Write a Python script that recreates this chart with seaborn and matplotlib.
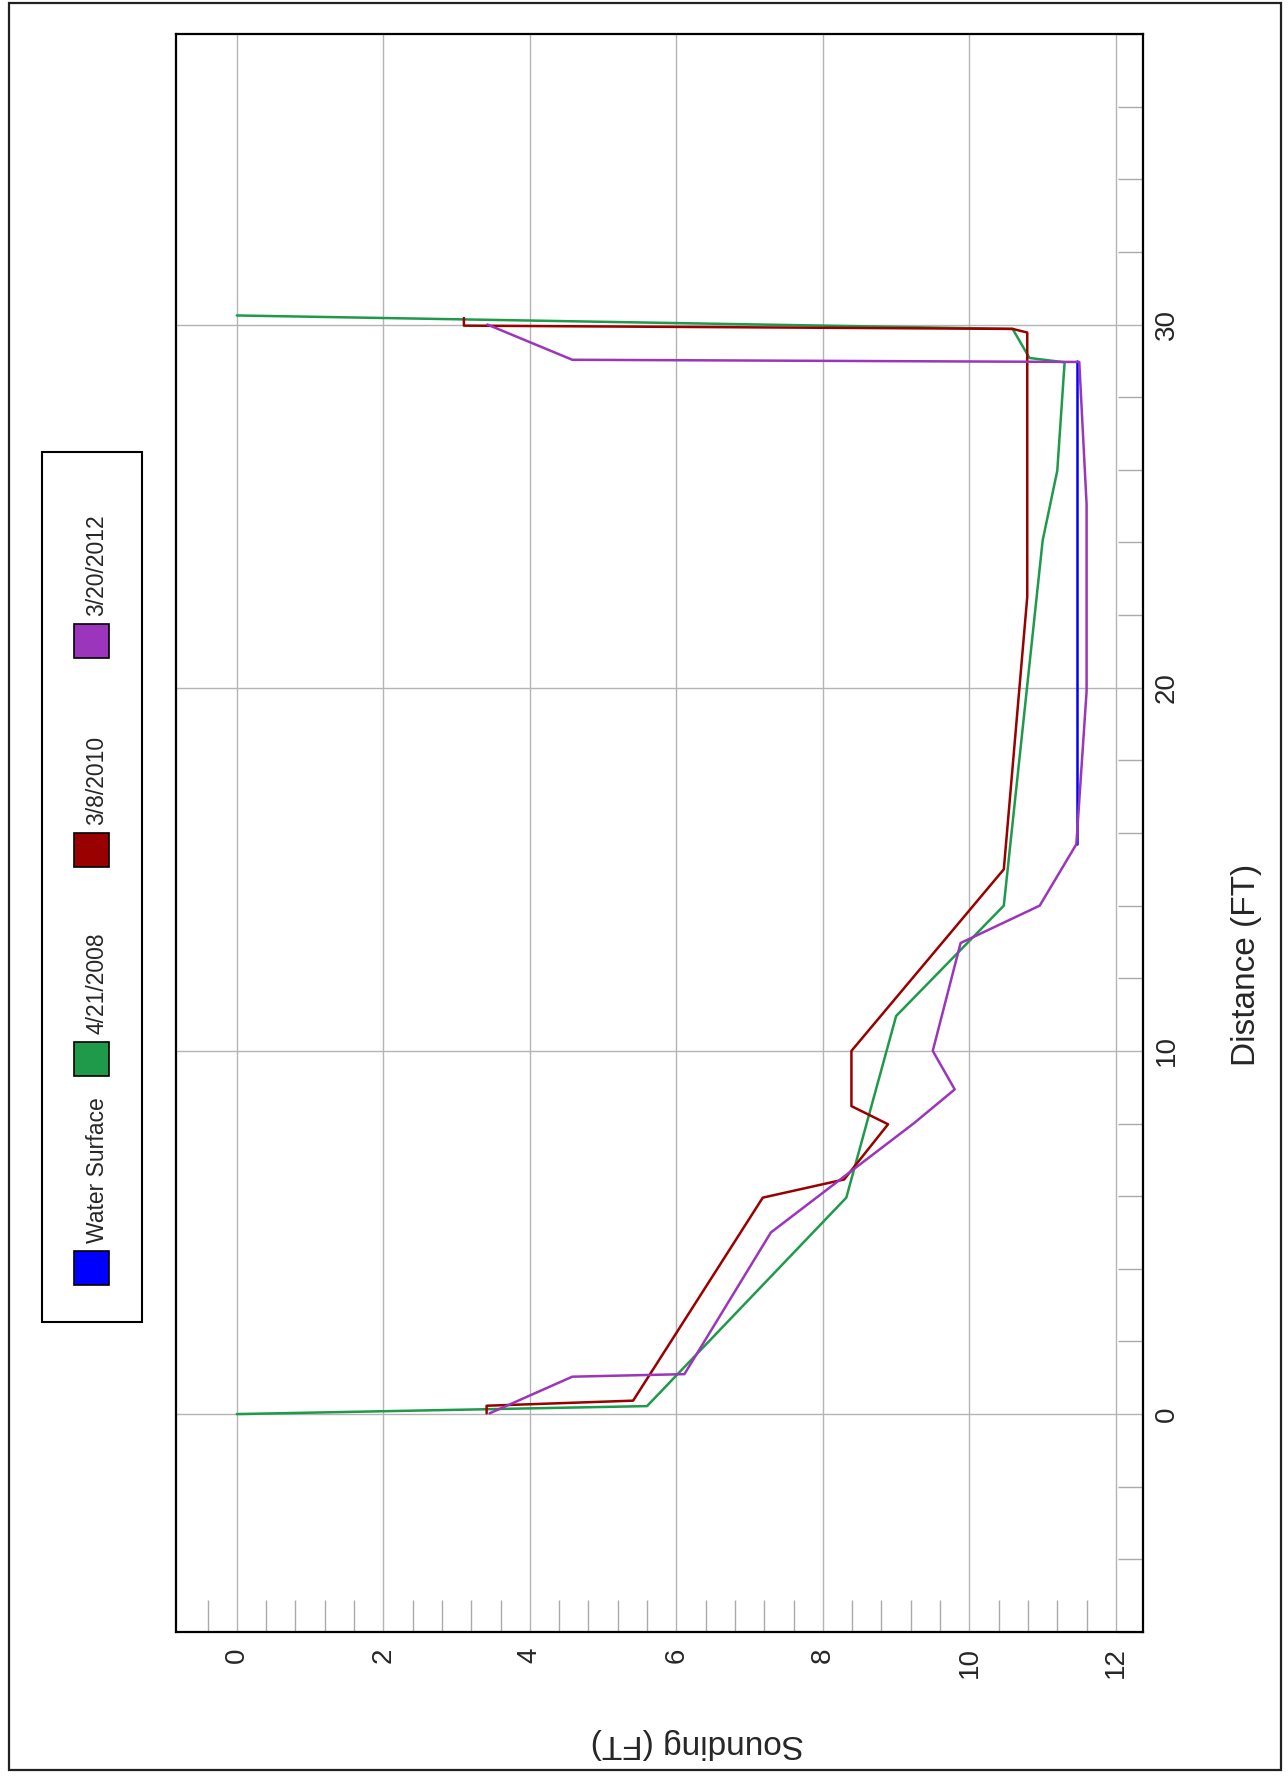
import numpy as np
import pandas as pd
import matplotlib
matplotlib.use('Agg')
import matplotlib.pyplot as plt
import seaborn as sns
from matplotlib.ticker import MultipleLocator, FixedLocator
from matplotlib.patches import Rectangle

# cross-section soundings (chart is drawn turned on its side)
# distance along section (FT) and sounding depth (FT) for each survey
ws_dist = [15.69, 29.0]
ws_depth = [11.47, 11.47]

d2008 = [0, 0.22, 5.96, 10.96, 14.0, 24.05, 25.98, 28.96, 29.08, 29.88, 30.25]
s2008 = [0, 5.6, 8.32, 9.0, 10.47, 11.0, 11.2, 11.3, 10.82, 10.59, 0]

d2010 = [0.02, 0.23, 0.37, 5.96, 6.46, 7.98, 8.48, 10.0, 15.0, 22.5, 29.78, 29.88, 29.97, 30.18]
s2010 = [3.41, 3.41, 5.41, 7.18, 8.29, 8.89, 8.39, 8.39, 10.47, 10.79, 10.79, 10.59, 3.10, 3.10]

d2012 = [0.02, 1.03, 1.1, 5.0, 8.02, 8.94, 10.0, 12.97, 14.0, 15.69, 19.9, 25.05, 28.97, 29.03, 30.0]
s2012 = [3.45, 4.58, 6.11, 7.29, 9.25, 9.8, 9.5, 9.88, 10.96, 11.46, 11.6, 11.6, 11.5, 4.58, 3.42]

labels = ['Water Surface', '4/21/2008', '3/8/2010', '3/20/2012']
colors = ['#0000ff', '#1e9a4a', '#990000', '#9b35bb']

sns.set_style('white')
plt.rcParams['font.family'] = ['Liberation Sans', 'DejaVu Sans']

W, H = 1288, 1780
fig = plt.figure(figsize=(W / 100, H / 100), dpi=100)
ax = fig.add_axes([176 / W, 1 - 1632 / H, 967 / W, 1598 / H])

series = [(ws_depth, ws_dist), (s2008, d2008), (s2010, d2010), (s2012, d2012)]
for (s, d), c in zip(series, colors):
    sns.lineplot(x=s, y=d, sort=False, estimator=None, color=c, lw=1.8, ax=ax)

ax.set_xlim(-0.83, 12.37)
ax.set_ylim(-6, 38)

ax.xaxis.set_major_locator(MultipleLocator(2))
ax.xaxis.set_minor_locator(FixedLocator(np.arange(-0.4, 12.3, 0.4)))
ax.yaxis.set_major_locator(MultipleLocator(10))
ax.yaxis.set_minor_locator(MultipleLocator(2))
ax.yaxis.tick_right()

ax.grid(True, which='major', color='#b4b4b4', lw=1.0)
ax.tick_params(axis='x', which='major', bottom=True, length=0, pad=11, labelsize=20, labelrotation=90)
ax.tick_params(axis='x', which='minor', bottom=True, top=False, direction='in', length=23,
               color='#aaaaaa', width=1.0)
ax.tick_params(axis='y', which='major', length=0, pad=8, labelsize=20, labelrotation=90)
ax.tick_params(axis='y', which='minor', direction='in', length=18, color='#aaaaaa', width=1.0,
               left=False, right=True)
for lab in ax.get_yticklabels():
    lab.set_va('center')
for sp in ax.spines.values():
    sp.set_color('black')
    sp.set_linewidth(1.6)
ax.set_xlabel('')
ax.set_ylabel('')

fig.text(697 / W, 1 - 1744 / H, 'Sounding (FT)', rotation=180, ha='center', va='center', fontsize=24)
fig.text(1246 / W, 1 - 965 / H, 'Distance (FT)', rotation=90, ha='center', va='center', fontsize=24)

# legend box, drawn by hand because it is turned too
fig.add_artist(Rectangle((42 / W, 1 - 1322 / H), 100 / W, 870 / H, transform=fig.transFigure,
                         fill=False, ec='black', lw=1.5))
centers = [1268, 1059, 850, 641]
for lab, c, yc in zip(labels, colors, centers):
    fig.add_artist(Rectangle((74 / W, 1 - (yc + 17) / H), 35 / W, 34 / H, transform=fig.transFigure,
                             fc=c, ec='black', lw=1.2))
    fig.text(97 / W, 1 - (yc - 25) / H, lab, rotation=90, ha='center', va='bottom', fontsize=16.5)

# outer frame
fig.add_artist(Rectangle((9 / W, 1 - 1770 / H), 1272 / W, 1767 / H, transform=fig.transFigure,
                         fill=False, ec='#222222', lw=1.6))

fig.savefig('out.png', dpi=100)
